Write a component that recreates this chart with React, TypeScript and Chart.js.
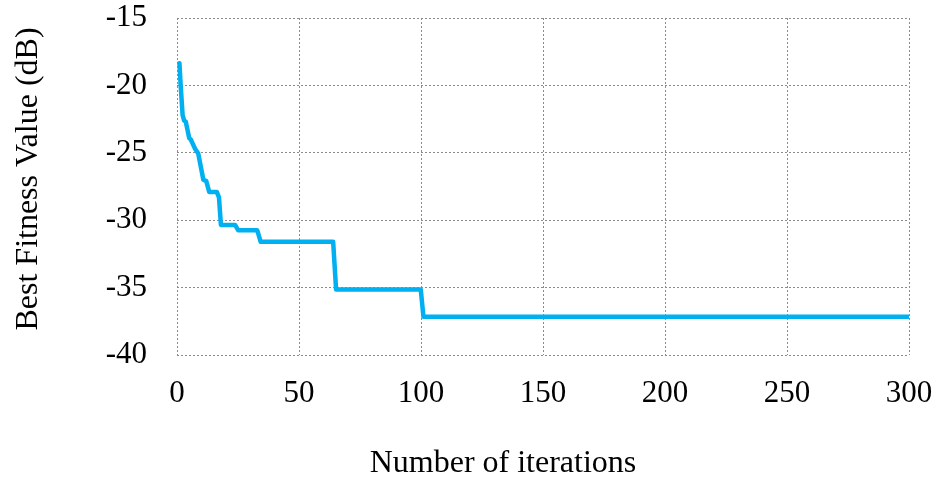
import React, { useEffect, useRef } from "react";
import { Chart, registerables } from "chart.js";

Chart.register(...registerables);

const iterations = [1, 1.5, 2.3, 2.9, 3.6, 5, 5.6, 7.4, 8.7, 10.8, 12, 13.2, 16.3, 17.2, 18, 23.8, 25.1, 32.9, 34.3, 64, 65.2, 99.9, 101, 300];
const fitness = [-18.35, -20.0, -22.2, -22.6, -22.7, -23.9, -24.0, -24.7, -25.05, -27.0, -27.1, -27.9, -27.9, -28.3, -30.35, -30.35, -30.75, -30.75, -31.6, -31.6, -35.14, -35.14, -37.16, -37.16];
const xTicks = [0, 50, 100, 150, 200, 250, 300];
const yTicks = [-15, -20, -25, -30, -35, -40];
const xTitle = "Number of iterations";
const yTitle = "Best Fitness Value (dB)";

const titlesPlugin = {
  id: "axisTitles",
  afterDraw(chart: any) {
    const ctx = chart.ctx as CanvasRenderingContext2D;
    ctx.save();
    ctx.fillStyle = "#000";
    ctx.font = '32px "Liberation Serif"';
    ctx.textAlign = "center";
    ctx.textBaseline = "alphabetic";
    ctx.fillText(xTitle, 503, 471.5);
    ctx.translate(37, 179);
    ctx.rotate(-Math.PI / 2);
    ctx.fillText(yTitle, 0, 0);
    ctx.restore();
  },
};

export default function App() {
  const ref = useRef<HTMLCanvasElement>(null);
  useEffect(() => {
    document.body.style.margin = "0";
    const ctx = ref.current!;
    const gridColor = "#8c8c8c";
    const chart = new Chart(ctx, {
      type: "line",
      data: {
        datasets: [
          {
            data: iterations.map((x, i) => ({ x, y: fitness[i] })),
            borderColor: "#00B0F0",
            borderWidth: 4.5,
            borderJoinStyle: "round",
            borderCapStyle: "round",
            pointRadius: 0,
            fill: false,
            tension: 0,
          },
        ],
      },
      options: {
        animation: false,
        responsive: false,
        maintainAspectRatio: false,
        layout: { padding: { top: 18, right: 27, left: 0, bottom: 0 } },
        plugins: { legend: { display: false }, tooltip: { enabled: false } },
        scales: {
          x: {
            type: "linear",
            min: 0,
            max: 300,
            afterBuildTicks: (s: any) => {
              s.ticks = xTicks.map((v) => ({ value: v }));
            },
            afterFit: (s: any) => {
              s.height = 124;
              s.paddingLeft = 0;
              s.paddingRight = 0;
            },
            grid: { color: gridColor, lineWidth: 1, tickLength: 0 } as any,
            border: { display: false, dash: [2, 2] },
            ticks: {
              padding: 20,
              color: "#000",
              font: { family: "Liberation Serif", size: 31 },
            },
          },
          y: {
            type: "linear",
            min: -40,
            max: -15,
            afterBuildTicks: (s: any) => {
              s.ticks = yTicks.map((v) => ({ value: v }));
            },
            afterFit: (s: any) => {
              s.width = 177;
              s.paddingTop = 0;
              s.paddingBottom = 0;
            },
            grid: { color: gridColor, lineWidth: 1, tickLength: 0 } as any,
            border: { display: false, dash: [2, 2] },
            ticks: {
              padding: 30,
              color: "#000",
              font: { family: "Liberation Serif", size: 31 },
            },
          },
        },
      },
      plugins: [titlesPlugin],
    });
    return () => chart.destroy();
  }, []);
  return (
    <div style={{ width: 936, height: 479 }}>
      <canvas ref={ref} width={936} height={479} style={{ display: "block" }} />
    </div>
  );
}
